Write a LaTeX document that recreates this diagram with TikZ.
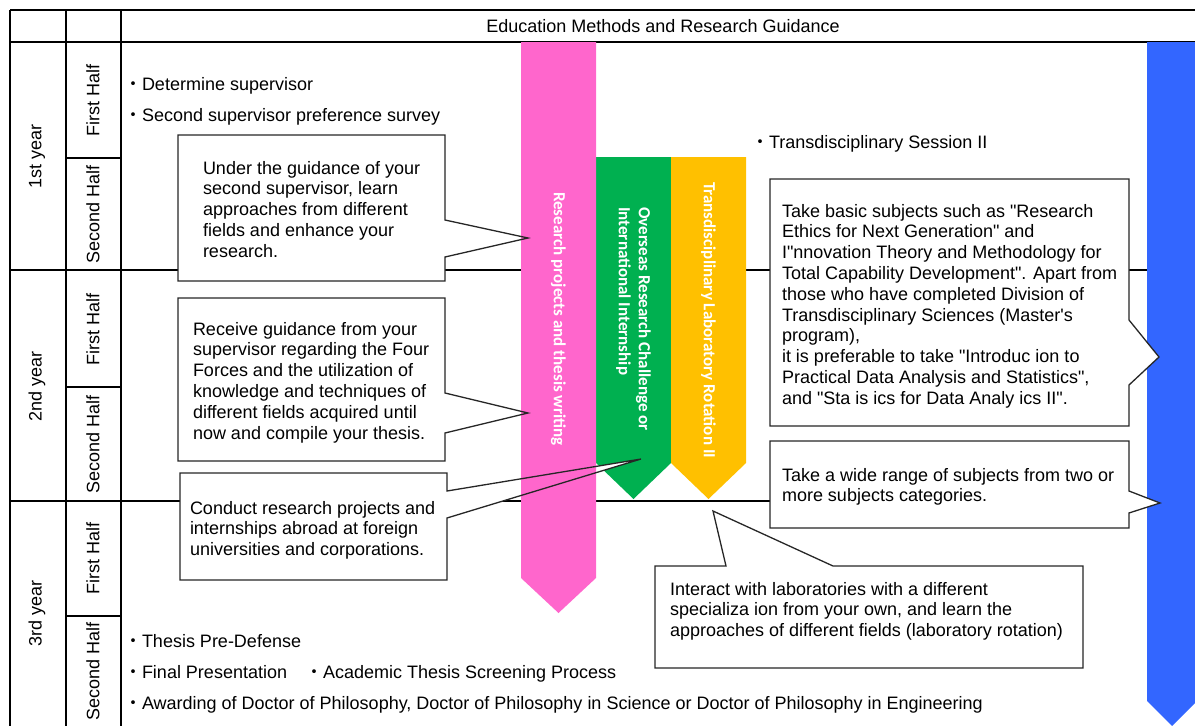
\documentclass[tikz,border=0pt]{standalone}
\usepackage{fontspec}
\setmainfont{Liberation Sans}[Ligatures=TeXOff]
\newfontfamily\barfont{Carlito}
\newfontfamily\cjkfont{Noto Sans CJK JP}
\usetikzlibrary{calc}
\definecolor{pinkbar}{HTML}{FF66CC}
\definecolor{greenbar}{HTML}{00B050}
\definecolor{yellowbar}{HTML}{FFC000}
\definecolor{bluebar}{HTML}{3366FF}
\newcommand{\jdot}{{\cjkfont ・}}
\begin{document}
\begin{tikzpicture}[x=1pt,y=-1pt,
  font=\fontsize{18}{20.8}\selectfont,
  tline/.style={line width=2pt,black},
  coline/.style={draw=black!85,line width=1.3pt},
  boxframe/.style={inner sep=0pt,outer sep=0pt,anchor=north west},
  boxtext/.style={inner sep=0pt,outer sep=0pt,align=left,anchor=north west},
  bullet/.style={inner sep=0pt,outer sep=0pt,anchor=base west},
  vlabel/.style={rotate=90,inner sep=0pt},
  barlabel/.style={font=\barfont\bfseries\fontsize{17}{20}\selectfont,text=white,rotate=-90,inner sep=0pt,align=left}
]
\useasboundingbox (0,0) rectangle (1195,726);
% ---- table grid ----
\draw[tline] (10,10) -- (1195,10);
\draw[tline] (10,42) -- (1195,42);
\draw[tline] (10,270) -- (1195,270);
\draw[tline] (10,501) -- (1195,501);
\draw[tline] (66,158) -- (121,158);
\draw[tline] (66,387) -- (121,387);
\draw[tline] (66,616) -- (121,616);
\draw[tline] (10,10) -- (10,726);
\draw[tline] (66,10) -- (66,726);
\draw[tline] (121,10) -- (121,726);
% ---- header and row labels ----
\node (head) at (663,26) {Education Methods and Research Guidance};
\node[vlabel] (y1) at (37,156) {1st year};
\node[vlabel] (y2) at (37,386) {2nd year};
\node[vlabel] (y3) at (37,613) {3rd year};
\node[vlabel] (h1) at (93,100) {First Half};
\node[vlabel] (h2) at (93,214) {Second Half};
\node[vlabel] (h3) at (93,329) {First Half};
\node[vlabel] (h4) at (93,444) {Second Half};
\node[vlabel] (h5) at (93,558) {First Half};
\node[vlabel] (h6) at (93,671) {Second Half};
% ---- bullets ----
\node[bullet] (l1) at (124,90) {\jdot Determine supervisor};
\node[bullet] (l2) at (124,121) {\jdot Second supervisor preference survey};
\node[bullet] (l3) at (751,148) {\jdot Transdisciplinary Session II};
\node[bullet] (l4) at (124,647) {\jdot Thesis Pre-Defense};
\node[bullet] (l5) at (124,678) {\jdot Final Presentation};
\node[bullet] (l6) at (305,678) {\jdot Academic Thesis Screening Process};
\node[bullet] (l7) at (124,709) {\jdot Awarding of Doctor of Philosophy, Doctor of Philosophy in Science or Doctor of Philosophy in Engineering};
% ---- bars (green, yellow, blue) ----
\fill[greenbar] (596,157) -- (671,157) -- (671,463) -- (633.5,499) -- (596,463) -- cycle;
\fill[yellowbar] (671,157) -- (746,157) -- (746,463) -- (708.5,499) -- (671,463) -- cycle;
\fill[bluebar] (1147,42) -- (1197,42) -- (1197,701) -- (1172,726) -- (1147,701) -- cycle;
\node[barlabel,anchor=west] (gl) at (633.5,207) {Overseas Research Challenge or\\International Internship};
\node[barlabel] (yl) at (708.5,320) {Transdisciplinary Laboratory Rotation II};
% ---- callout frames ----
\node[boxframe,minimum width=267,minimum height=146] (b1) at (178,135) {};
\node[boxframe,minimum width=267,minimum height=163] (b2) at (178,298) {};
\node[boxframe,minimum width=267,minimum height=107] (b3) at (180,473) {};
\node[boxframe,minimum width=359,minimum height=247] (b4) at (770,179) {};
\node[boxframe,minimum width=359,minimum height=87] (b5) at (770,441) {};
\node[boxframe,minimum width=428,minimum height=102] (b6) at (655,566) {};
\coordinate (p1) at (528,238);
\coordinate (p2) at (528,413);
\coordinate (p3) at (641,459);
\coordinate (p4) at (1159,357);
\coordinate (p5) at (1160,503);
\coordinate (p6) at (713,511);
% white fills
\fill[white] (b1.north west) -- (b1.north east) -- ($(b1.north east)+(0,85)$) -- (p1) -- ($(b1.north east)+(0,122)$) -- (b1.south east) -- (b1.south west) -- cycle;
\fill[white] (b2.north west) -- (b2.north east) -- ($(b2.north east)+(0,95)$) -- (p2) -- ($(b2.north east)+(0,135)$) -- (b2.south east) -- (b2.south west) -- cycle;
\fill[white] (b3.north west) -- (b3.north east) -- ($(b3.north east)+(0,18)$) -- (p3) -- ($(b3.north east)+(0,45)$) -- (b3.south east) -- (b3.south west) -- cycle;
\fill[white] (b4.north west) -- (b4.north east) -- ($(b4.north east)+(0,141)$) -- (p4) -- ($(b4.north east)+(0,206)$) -- (b4.south east) -- (b4.south west) -- cycle;
\fill[white] (b5.north west) -- (b5.north east) -- ($(b5.north east)+(0,50)$) -- (p5) -- ($(b5.north east)+(0,72)$) -- (b5.south east) -- (b5.south west) -- cycle;
\fill[white] (b6.north west) -- ($(b6.north west)+(71,0)$) -- (p6) -- ($(b6.north west)+(178,0)$) -- (b6.north east) -- (b6.south east) -- (b6.south west) -- cycle;
% ---- pink bar ----
\fill[pinkbar] (521,42) -- (596,42) -- (596,578) -- (558.5,613) -- (521,578) -- cycle;
\node[barlabel] (pl) at (558.5,319) {Research projects and thesis writing};
% outlines
\draw[coline] (b1.north west) -- (b1.north east) -- ($(b1.north east)+(0,85)$) -- (p1) -- ($(b1.north east)+(0,122)$) -- (b1.south east) -- (b1.south west) -- cycle;
\draw[coline] (b2.north west) -- (b2.north east) -- ($(b2.north east)+(0,95)$) -- (p2) -- ($(b2.north east)+(0,135)$) -- (b2.south east) -- (b2.south west) -- cycle;
\draw[coline] (b3.north west) -- (b3.north east) -- ($(b3.north east)+(0,18)$) -- (p3) -- ($(b3.north east)+(0,45)$) -- (b3.south east) -- (b3.south west) -- cycle;
\draw[coline] (b4.north west) -- (b4.north east) -- ($(b4.north east)+(0,141)$) -- (p4) -- ($(b4.north east)+(0,206)$) -- (b4.south east) -- (b4.south west) -- cycle;
\draw[coline] (b5.north west) -- (b5.north east) -- ($(b5.north east)+(0,50)$) -- (p5) -- ($(b5.north east)+(0,72)$) -- (b5.south east) -- (b5.south west) -- cycle;
\draw[coline] (b6.north west) -- ($(b6.north west)+(71,0)$) -- (p6) -- ($(b6.north west)+(178,0)$) -- (b6.north east) -- (b6.south east) -- (b6.south west) -- cycle;
% ---- callout texts ----
\node[boxtext] (t1) at (203,161) {Under the guidance of your\\second supervisor, learn\\approaches from different\\fields and enhance your\\research.};
\node[boxtext] (t2) at (193,322) {Receive guidance from your\\supervisor regarding the Four\\Forces and the utilization of\\knowledge and techniques of\\different fields acquired until\\now and compile your thesis.};
\node[boxtext] (t3) at (190,501) {Conduct research projects and\\internships abroad at foreign\\universities and corporations.};
\node[boxtext] (t4) at (782,204) {Take basic subjects such as "Research\\Ethics for Next Generation" and\\I"nnovation Theory and Methodology for\\Total Capability Development". Apart from\\those who have completed Division of\\Transdisciplinary Sciences (Master's\\program),\\it is preferable to take "Introduc ion to\\Practical Data Analysis and Statistics",\\and "Sta is ics for Data Analy ics II".};
\node[boxtext] (t5) at (782,468) {Take a wide range of subjects from two or\\more subjects categories.};
\node[boxtext] (t6) at (670,582) {Interact with laboratories with a different\\specializa ion from your own, and learn the\\approaches of different fields (laboratory rotation)};
\end{tikzpicture}
\end{document}
